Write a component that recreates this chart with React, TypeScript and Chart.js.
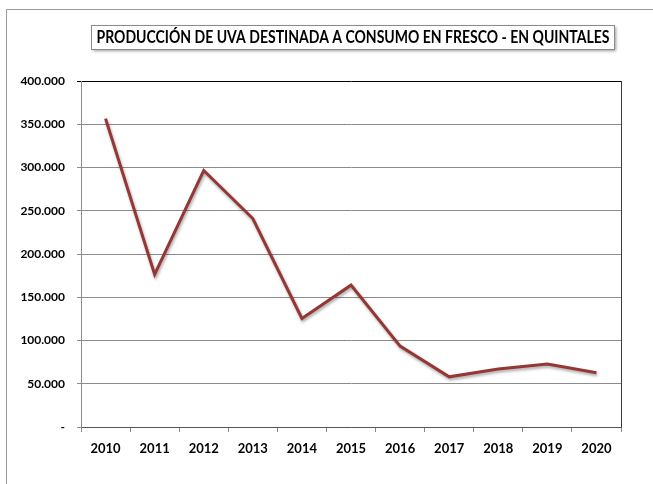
import React, { useEffect, useRef } from "react";
import { Chart, registerables } from "chart.js";

Chart.register(...registerables);

const TITLE = "PRODUCCIÓN DE UVA DESTINADA A CONSUMO EN FRESCO - EN QUINTALES";
const years = ["2010", "2011", "2012", "2013", "2014", "2015", "2016", "2017", "2018", "2019", "2020"];
const quintales = [356500, 176500, 296500, 241000, 125500, 164000, 93500, 58000, 67000, 72700, 62700];
const yTicks = [0, 50000, 100000, 150000, 200000, 250000, 300000, 350000, 400000];

const FONT = "Lato, 'Liberation Sans', sans-serif";

function fmt(v: number): string {
  if (v === 0) return "-";
  return String(Math.round(v)).replace(/\B(?=(\d{3})+(?!\d))/g, ".");
}

const decorPlugin = {
  id: "decor",
  beforeDatasetsDraw(chart: any) {
    const { ctx, chartArea } = chart;
    ctx.save();
    ctx.strokeStyle = "#3a3a3a";
    ctx.lineWidth = 1;
    ctx.beginPath();
    ctx.moveTo(Math.round(chartArea.right) + 0.5, chartArea.top);
    ctx.lineTo(Math.round(chartArea.right) + 0.5, chartArea.bottom);
    ctx.stroke();
    ctx.restore();
  },
  beforeDatasetDraw(chart: any) {
    const ctx = chart.ctx;
    ctx.save();
    ctx.shadowColor = "rgba(0,0,0,0.35)";
    ctx.shadowBlur = 3;
    ctx.shadowOffsetX = 1;
    ctx.shadowOffsetY = 2;
  },
  afterDatasetDraw(chart: any) {
    chart.ctx.restore();
  },
  afterDraw(chart: any) {
    const ctx = chart.ctx;
    const x = 91, y = 25, w = 523, h = 24;
    ctx.save();
    ctx.shadowColor = "rgba(0,0,0,0.4)";
    ctx.shadowBlur = 3;
    ctx.shadowOffsetX = 2;
    ctx.shadowOffsetY = 2;
    ctx.fillStyle = "#ffffff";
    ctx.fillRect(x, y, w, h);
    ctx.restore();
    ctx.save();
    ctx.strokeStyle = "#8a8a8a";
    ctx.lineWidth = 1;
    ctx.strokeRect(x + 0.5, y + 0.5, w, h);
    ctx.fillStyle = "#000000";
    ctx.font = `bold 16.5px ${FONT}`;
    ctx.textAlign = "center";
    ctx.textBaseline = "middle";
    const target = 513;
    const tw = ctx.measureText(TITLE).width;
    const sx = tw > target ? target / tw : 1;
    ctx.translate(x + w / 2 + 0.5, y + h / 2 + 1);
    ctx.scale(sx, 1);
    ctx.fillText(TITLE, 0, 0);
    ctx.restore();
  },
};

export default function App() {
  const ref = useRef<HTMLCanvasElement | null>(null);

  useEffect(() => {
    if (!ref.current) return;
    const chart = new Chart(ref.current, {
      type: "line",
      data: {
        labels: years,
        datasets: [
          {
            data: quintales,
            borderColor: "#953735",
            borderWidth: 3,
            pointRadius: 0,
            tension: 0,
            fill: false,
          },
        ],
      },
      options: {
        animation: false,
        responsive: false,
        maintainAspectRatio: false,
        layout: { padding: { top: 81, right: 32, bottom: 0, left: 0 } },
        plugins: {
          legend: { display: false },
          title: { display: false },
          tooltip: { enabled: false },
        },
        scales: {
          x: {
            offset: true,
            grid: {
              offset: true,
              drawOnChartArea: false,
              drawTicks: true,
              tickLength: 5,
              color: "#8a8a8a",
            },
            border: { display: true, color: "#555555", width: 1 },
            ticks: {
              color: "#000000",
              font: { family: FONT, size: 13, weight: "bold" },
              padding: 9,
              maxRotation: 0,
              autoSkip: false,
            },
            afterFit(scale: any) {
              scale.height = 57;
            },
          },
          y: {
            min: 0,
            max: 400000,
            afterBuildTicks(scale: any) {
              scale.ticks = yTicks.map((v) => ({ value: v }));
            },
            grid: {
              color: (c: any) => (c.tick && c.tick.value === 400000 ? "#000000" : "#8c8c8c"),
              tickLength: 4,
              drawTicks: true,
            },
            border: { display: true, color: "#8a8a8a", width: 1 },
            ticks: {
              color: "#000000",
              font: { family: FONT, size: 12, weight: "bold" },
              padding: 12,
              callback: (v: any) => fmt(Number(v)),
            },
            afterFit(scale: any) {
              scale.width = 81;
            },
          },
        },
      },
      plugins: [decorPlugin],
    });
    return () => chart.destroy();
  }, []);

  return (
    <div style={{ position: "fixed", left: 0, top: 0, width: 653, height: 484, background: "#fff", overflow: "hidden" }}>
      <div
        style={{
          position: "absolute",
          left: 6,
          top: 9,
          width: 660,
          height: 500,
          borderLeft: "1px solid #9a9a9a",
          borderTop: "1px solid #9a9a9a",
          boxSizing: "border-box",
        }}
      />
      <canvas ref={ref} width={653} height={484} style={{ position: "absolute", left: 0, top: 0, width: 653, height: 484 }} />
    </div>
  );
}
